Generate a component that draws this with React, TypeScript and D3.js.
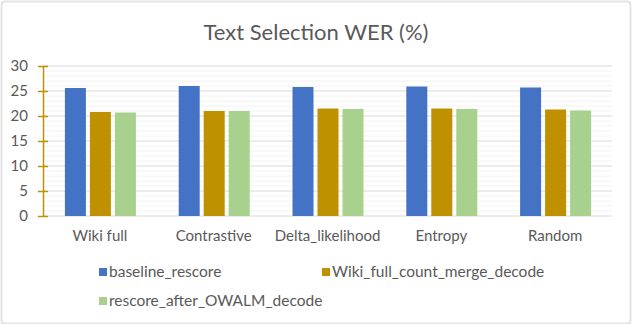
import { useEffect, useRef } from "react";
import * as d3 from "d3";

const categories = ["Wiki full", "Contrastive", "Delta_likelihood", "Entropy", "Random"];
const seriesNames = ["baseline_rescore", "Wiki_full_count_merge_decode", "rescore_after_OWALM_decode"];
const baselineRescore = [25.6, 26.0, 25.8, 25.9, 25.7];
const wikiFullCountMerge = [20.8, 21.0, 21.5, 21.5, 21.3];
const rescoreAfterOwalm = [20.7, 21.0, 21.4, 21.4, 21.1];
const yTicks = [0, 5, 10, 15, 20, 25, 30];

const colors = ["#4472C4", "#BF9000", "#A9D18E"];

function App() {
  const svgRef = useRef<SVGSVGElement>(null);

  useEffect(() => {
    const W = 632;
    const H = 324;
    const margin = { top: 66, right: 20, bottom: 108, left: 43 };
    const innerH = H - margin.top - margin.bottom; // 150
    const svg = d3.select(svgRef.current);
    svg.selectAll("*").remove();

    const font = "Lato, 'Open Sans', sans-serif";

    // outer frame
    svg
      .append("rect")
      .attr("x", 1.5)
      .attr("y", 1.5)
      .attr("width", W - 3)
      .attr("height", H - 2)
      .attr("rx", 3)
      .attr("fill", "#fff")
      .attr("stroke", "#e4e4e4")
      .attr("stroke-width", 2);

    svg
      .append("text")
      .attr("x", W / 2)
      .attr("y", 40)
      .attr("text-anchor", "middle")
      .attr("font-family", font)
      .attr("font-size", 22)
      .attr("fill", "#595959")
      .text("Text Selection WER (%)");

    const x0 = d3
      .scaleBand()
      .domain(categories)
      .range([margin.left, 612]);

    const y = d3.scaleLinear().domain([0, 30]).range([margin.top + innerH, margin.top]);

    const g = svg.append("g");

    // minor gridlines
    g.selectAll(".minor")
      .data(d3.range(0, 31, 1).filter((v) => v % 5 !== 0))
      .join("line")
      .attr("x1", margin.left)
      .attr("x2", 612)
      .attr("y1", (d) => y(d))
      .attr("y2", (d) => y(d))
      .attr("stroke", "#f2f2f2")
      .attr("stroke-width", 1);

    // major gridlines
    g.selectAll(".major")
      .data(yTicks)
      .join("line")
      .attr("x1", margin.left)
      .attr("x2", 612)
      .attr("y1", (d) => y(d))
      .attr("y2", (d) => y(d))
      .attr("stroke", "#d9d9d9")
      .attr("stroke-width", 1.2);

    const data = [baselineRescore, wikiFullCountMerge, rescoreAfterOwalm];
    const x1 = d3.scaleBand().domain(["0", "1", "2"]).range([0, 70]).paddingInner(0.2);

    categories.forEach((cat, ci) => {
      const cx = (x0(cat) as number) + x0.bandwidth() / 2 - 35;
      data.forEach((s, si) => {
        g.append("rect")
          .attr("x", cx + (x1(String(si)) as number))
          .attr("y", y(s[ci]))
          .attr("width", x1.bandwidth() + 1)
          .attr("height", y(0) - y(s[ci]))
          .attr("fill", colors[si]);
      });
    });

    // y axis
    const yAxis = d3.axisLeft(y).tickValues(yTicks).tickSize(5).tickSizeOuter(0).tickPadding(10);
    const ya = svg
      .append("g")
      .attr("transform", `translate(${margin.left},0)`)
      .call(yAxis);
    ya.select(".domain").attr("stroke", "#BF9000").attr("stroke-width", 1.5);
    ya.selectAll(".tick line")
      .attr("x1", -5)
      .attr("x2", 5)
      .attr("stroke", "#BF9000")
      .attr("stroke-width", 1.5);
    ya.selectAll(".tick text")
      .attr("font-family", font)
      .attr("font-size", 15)
      .attr("fill", "#595959");

    // x labels
    const xAxis = d3.axisBottom(x0).tickSize(0).tickPadding(14);
    const xa = svg
      .append("g")
      .attr("transform", `translate(0,${y(0)})`)
      .call(xAxis);
    xa.select(".domain").remove();
    xa.selectAll(".tick text")
      .attr("font-family", font)
      .attr("font-size", 15)
      .attr("fill", "#595959");

    // legend
    const legendPos = [
      [99, 272],
      [322, 272],
      [99, 301],
    ];
    seriesNames.forEach((name, i) => {
      const [lx, ly] = legendPos[i];
      svg
        .append("rect")
        .attr("x", lx)
        .attr("y", ly - 4)
        .attr("width", 8)
        .attr("height", 8)
        .attr("fill", colors[i]);
      svg
        .append("text")
        .attr("x", lx + 10)
        .attr("y", ly + 5)
        .attr("font-family", font)
        .attr("font-size", 15.5)
        .attr("fill", "#595959")
        .text(name);
    });
  }, []);

  return (
    <svg
      ref={svgRef}
      width={632}
      height={324}
      style={{ position: "absolute", left: 0, top: 0 }}
    ></svg>
  );
}

export default App;
